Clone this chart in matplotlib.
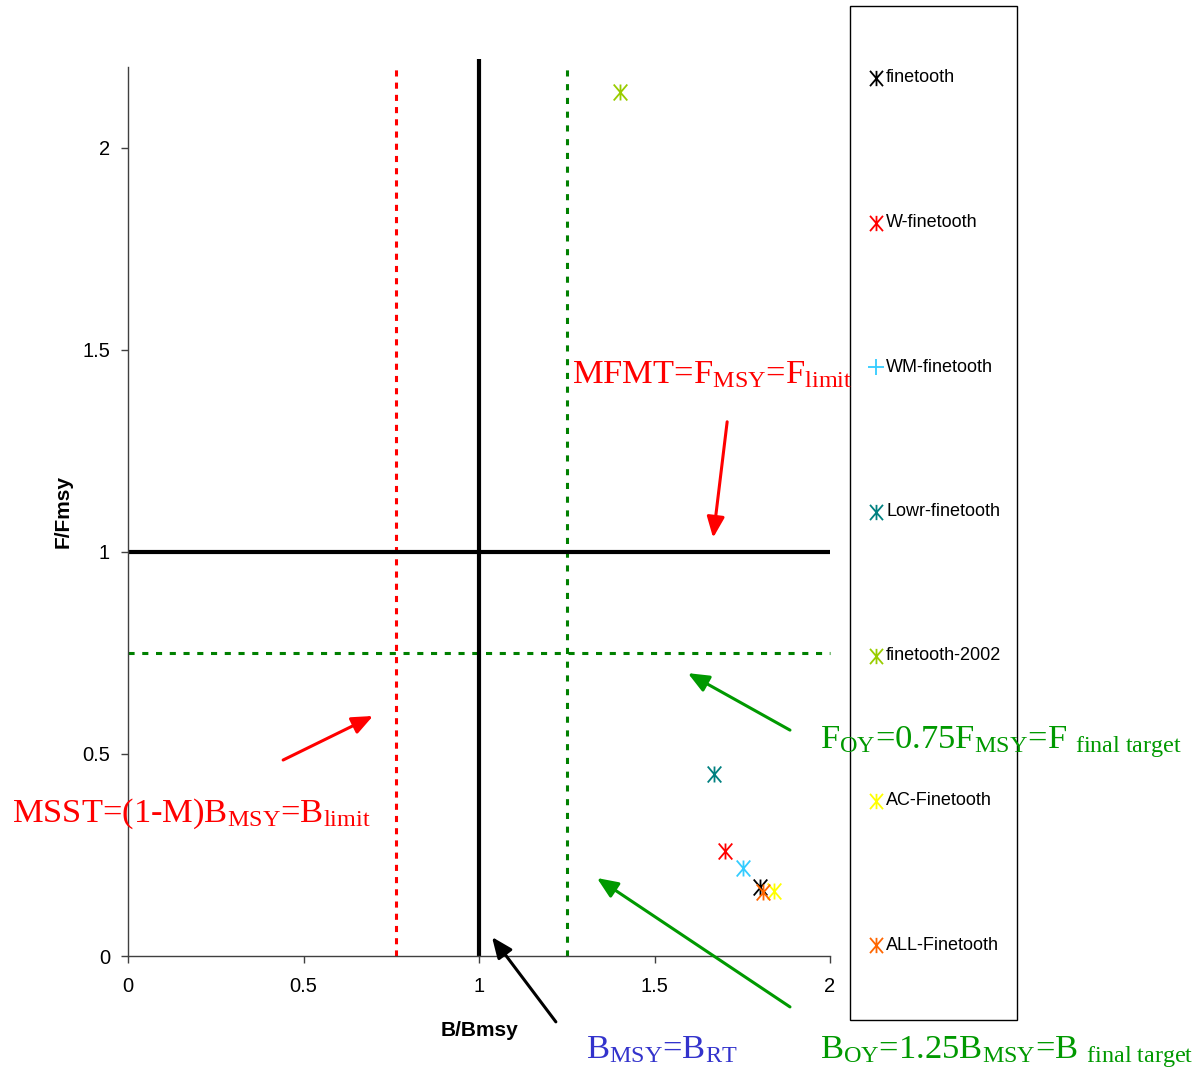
import matplotlib
matplotlib.use("Agg")
import matplotlib.pyplot as plt
from matplotlib.path import Path
from matplotlib.lines import Line2D
from matplotlib.patches import Rectangle

plt.rcParams['font.family'] = ['Liberation Sans', 'DejaVu Sans']
plt.rcParams['mathtext.fontset'] = 'custom'
plt.rcParams['mathtext.rm'] = 'Liberation Serif'
plt.rcParams['mathtext.it'] = 'Liberation Serif:italic'
plt.rcParams['mathtext.bf'] = 'Liberation Serif:bold'

# ---- data ----
series = ["finetooth", "W-finetooth", "WM-finetooth", "Lowr-finetooth",
          "finetooth-2002", "AC-Finetooth", "ALL-Finetooth"]
b_ratio = [1.801, 1.701, 1.752, 1.670, 1.402, 1.840, 1.809]
f_ratio = [0.171, 0.260, 0.218, 0.450, 2.139, 0.161, 0.158]
colors = ["#000000", "#FF0000", "#33CCFF", "#008080", "#99CC00", "#FFFF00", "#FF6600"]
legend_markers = ["ast", "ast", "plus", "ast", "ast", "ast", "ast"]

x_ticks = [0, 0.5, 1, 1.5, 2]
x_tick_labels = ["0", "0.5", "1", "1.5", "2"]
y_ticks = [0, 0.5, 1, 1.5, 2]
y_tick_labels = ["0", "0.5", "1", "1.5", "2"]

b_limit = 0.763   # MSST
b_msy = 1.0
b_oy = 1.25
f_msy = 1.0
f_oy = 0.75

W, H = 1203, 1074
fig = plt.figure(figsize=(W / 100, H / 100), dpi=100)

def fx(px):
    return px / W

def fy(py):
    return 1 - py / H

ax = fig.add_axes([fx(128), fy(956), fx(830) - fx(128), fy(67) - fy(956)])
ax.set_xlim(0, 2)
ax.set_ylim(0, 2.2)
for s in ["top", "right"]:
    ax.spines[s].set_visible(False)
for s in ["left", "bottom"]:
    ax.spines[s].set_color("#404040")
    ax.spines[s].set_linewidth(1.0)
ax.set_xticks(x_ticks)
ax.set_xticklabels(x_tick_labels)
ax.set_yticks(y_ticks)
ax.set_yticklabels(y_tick_labels)
ax.tick_params(direction="out", length=5, width=1, labelsize=14.5, color="#404040", pad=8)
ax.tick_params(axis="x", pad=10)
fig.text(fx(480), fy(1030), "B/Bmsy", fontsize=15, fontweight="bold", ha="center", va="center")
fig.text(fx(63), fy(512), "F/Fmsy", fontsize=15, fontweight="bold", ha="center", va="center",
         rotation=90)

# reference lines
ax.plot([b_limit, b_limit], [0, 2.2], color="#FF0000", lw=2.2, ls=(0, (2, 2)), clip_on=False)
ax.plot([b_oy, b_oy], [0, 2.2], color="#008000", lw=2.2, ls=(0, (2, 2.5)), clip_on=False)
ax.plot([0, 2], [f_oy, f_oy], color="#008000", lw=2.2, ls=(0, (2, 2.5)), clip_on=False)
ax.plot([0, 2], [f_msy, f_msy], color="black", lw=3, solid_capstyle="butt", clip_on=False)
ax.plot([b_msy, b_msy], [0, 2.22], color="black", lw=3, solid_capstyle="butt", clip_on=False)

# asterisk marker (vertical bar + X)
ast = Path([(0, -1), (0, 1), (-0.85, -1), (0.85, 1), (-0.85, 1), (0.85, -1)],
           [Path.MOVETO, Path.LINETO] * 3)
plus = Path([(0, -1), (0, 1), (-1, 0), (1, 0)], [Path.MOVETO, Path.LINETO] * 2)
mk = {"ast": ast, "plus": plus}

for xb, yf, c in zip(b_ratio, f_ratio, colors):
    ax.plot([xb], [yf], linestyle="none", marker=ast, ms=11.5, mfc="none",
            mec=c, mew=1.3, clip_on=False, zorder=5)

# annotations (arrows)
def arrow(x0, y0, x1, y1, color):
    ax.annotate("", xy=(x1, y1), xytext=(x0, y0), xycoords="data",
                annotation_clip=False,
                arrowprops=dict(arrowstyle="-|>,head_length=0.9,head_width=0.38",
                                color=color, lw=2.2, shrinkA=0, shrinkB=0,
                                mutation_scale=14))

arrow(1.707, 1.322, 1.667, 1.035, "#FF0000")
arrow(0.442, 0.485, 0.698, 0.594, "#FF0000")
arrow(1.886, 0.559, 1.595, 0.700, "#009900")
arrow(1.886, -0.126, 1.336, 0.193, "#009900")
arrow(1.219, -0.163, 1.037, 0.047, "black")

big = 24.8
fig.text(fx(572), fy(383), r"MFMT=F$_{\mathrm{MSY}}$=F$_{\mathrm{limit}}$",
         color="#FF0000", fontsize=big, family="Liberation Serif", va="baseline")
fig.text(fx(12), fy(822), r"MSST=(1-M)B$_{\mathrm{MSY}}$=B$_{\mathrm{limit}}$",
         color="#FF0000", fontsize=big, family="Liberation Serif", va="baseline")
fig.text(fx(820), fy(748), r"F$_{\mathrm{OY}}$=0.75F$_{\mathrm{MSY}}$=F $_{\mathrm{final\ target}}$",
         color="#009900", fontsize=big, family="Liberation Serif", va="baseline")
fig.text(fx(586), fy(1058), r"B$_{\mathrm{MSY}}$=B$_{\mathrm{RT}}$",
         color="#3333CC", fontsize=big, family="Liberation Serif", va="baseline")
fig.text(fx(820), fy(1058), r"B$_{\mathrm{OY}}$=1.25B$_{\mathrm{MSY}}$=B $_{\mathrm{final\ target}}$",
         color="#009900", fontsize=big, family="Liberation Serif", va="baseline")

# legend box
fig.add_artist(Rectangle((fx(850), fy(1020)), fx(1017) - fx(850), fy(6) - fy(1020),
                         transform=fig.transFigure, facecolor="none",
                         edgecolor="black", lw=1.0, zorder=1))
for i, (lab, c, m) in enumerate(zip(series, colors, legend_markers)):
    ypx = 78 + i * 144.5
    fig.add_artist(Line2D([fx(876)], [fy(ypx)], transform=fig.transFigure,
                          linestyle="none", marker=mk[m], ms=11 if m == "ast" else 12,
                          mfc="none", mec=c, mew=1.3))
    fig.text(fx(886), fy(ypx), lab, fontsize=13, va="center", ha="left")

fig.savefig("out.png", dpi=100)
